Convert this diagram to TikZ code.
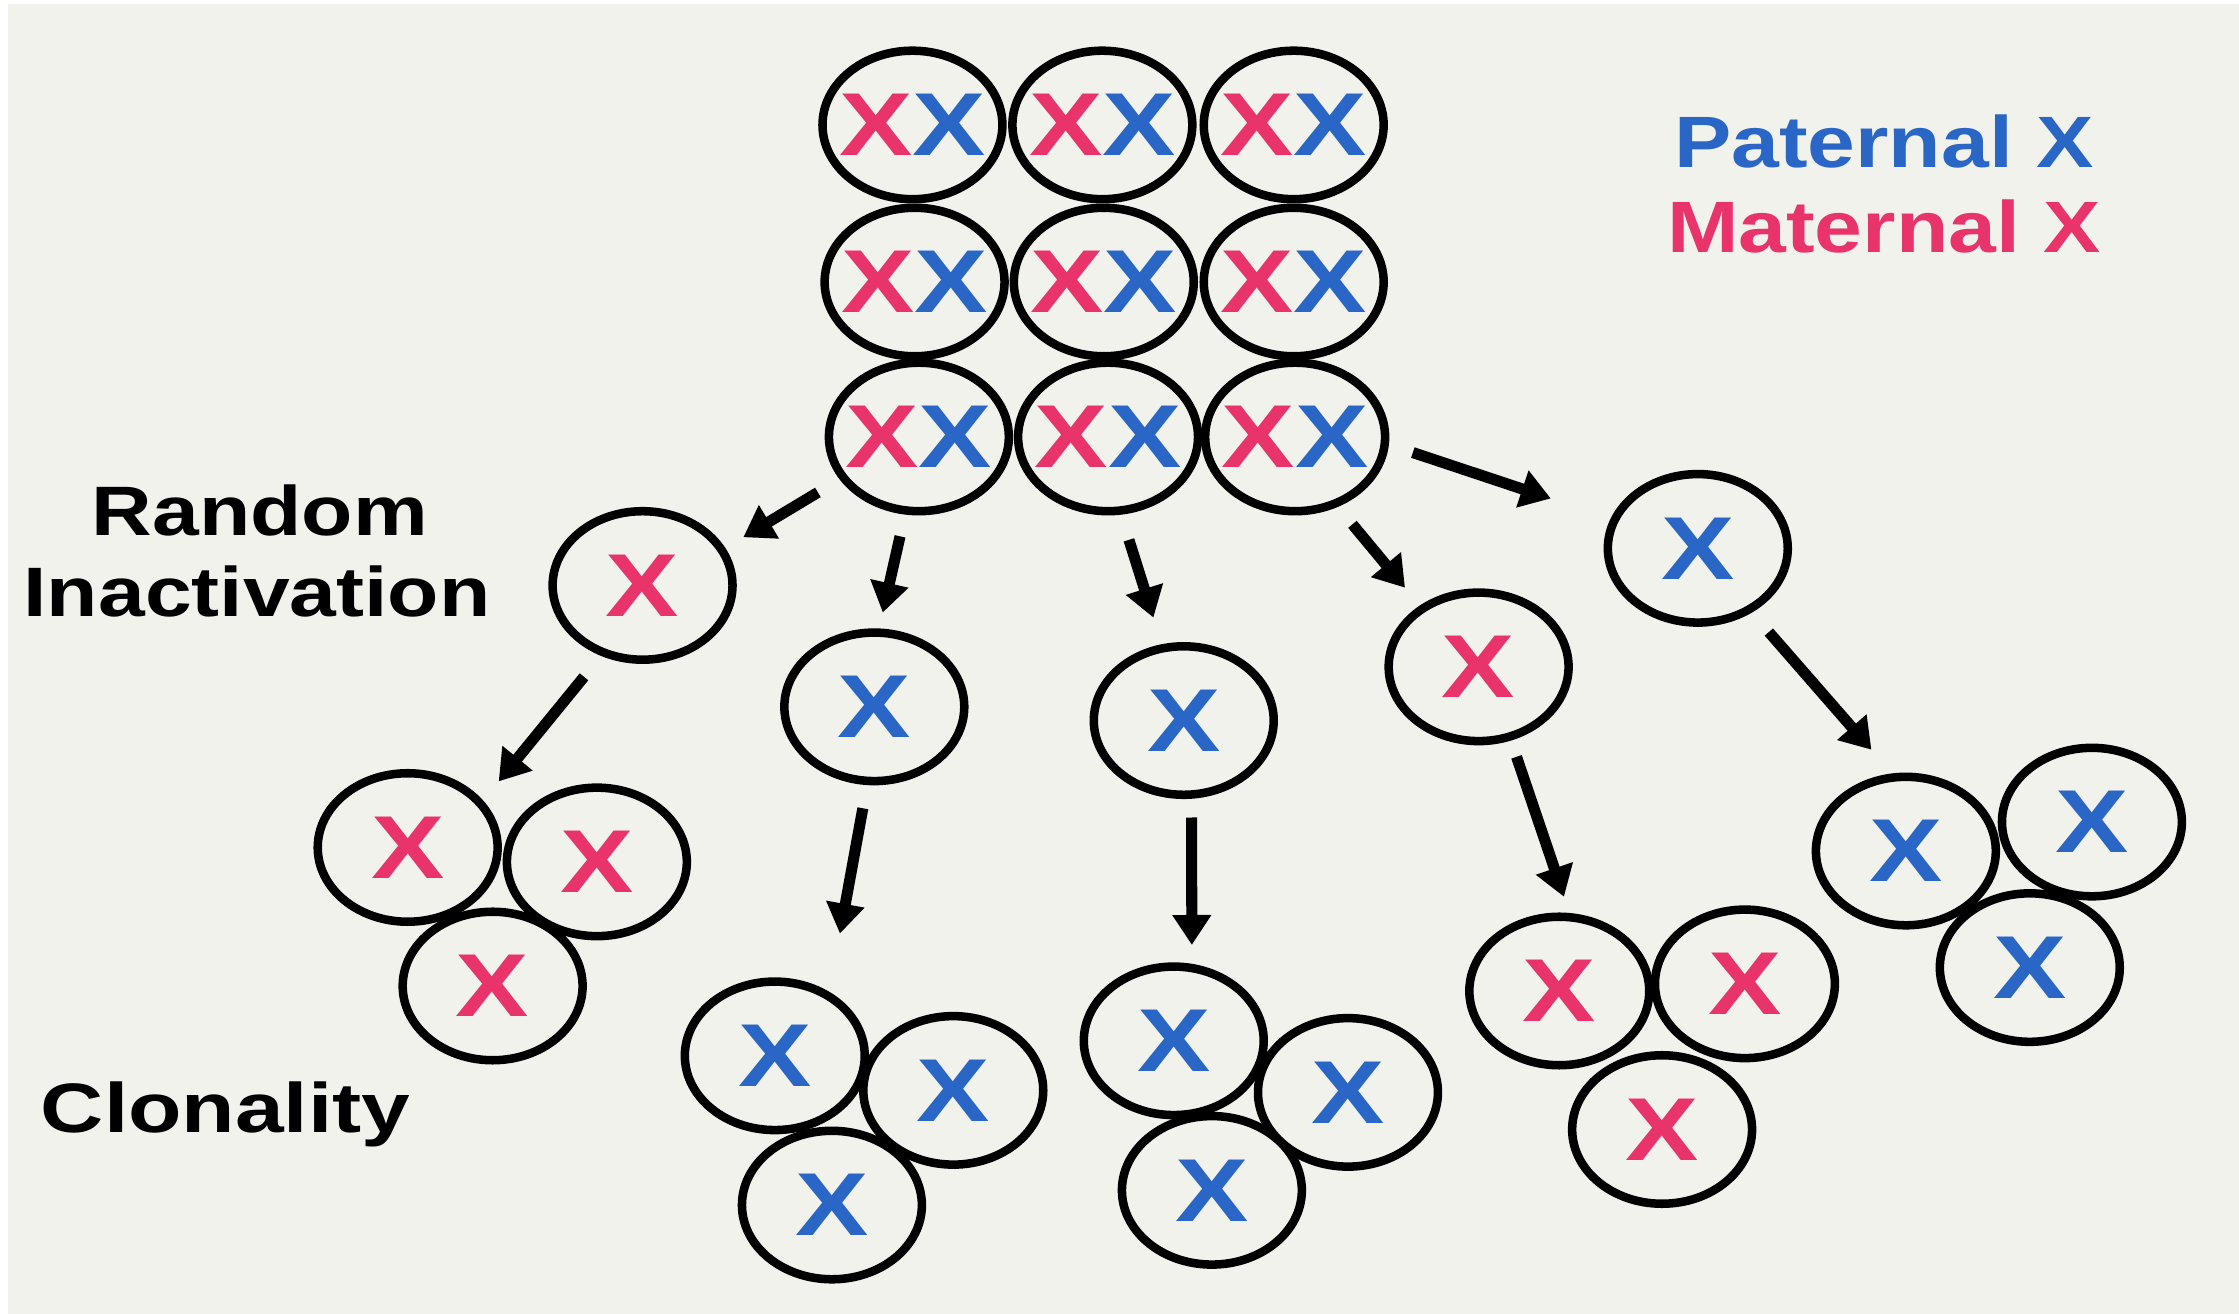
\documentclass[tikz,border=0pt]{standalone}
\usepackage{fontspec}
\setmainfont{Liberation Sans}
\usetikzlibrary{shapes.geometric, arrows.meta}
\definecolor{matred}{HTML}{E8336B}
\definecolor{patblue}{HTML}{2966C6}
\definecolor{paper}{HTML}{F2F2EC}
\newcommand{\wider}[2]{\scalebox{#1}[1]{#2}}
\newcommand{\matx}{\textcolor{matred}{X}}
\newcommand{\patx}{\textcolor{patblue}{X}}
\tikzset{
	cell/.style={ellipse, draw, line width=1.7pt, minimum width=12.6mm, minimum height=10.4mm, inner sep=0pt, outer sep=0pt,
		label={[font=\bfseries\fontsize{17.8}{20}\selectfont, inner sep=0pt]center:\wider{1.23}{#1}}},
	line/.style={draw, line width=2.2pt, -{Triangle[length=2.1mm, width=2.6mm]}},
	tag/.style={font=\bfseries\fontsize{13.95}{16}\selectfont, inner sep=0pt, anchor=base},
	key/.style={font=\bfseries\fontsize{14.5}{17}\selectfont, inner sep=0pt, anchor=base}
}

\begin{document}
\begin{tikzpicture}[x=0.1mm, y=-0.1mm]
	\useasboundingbox (0,0) rectangle (1568,920);
	\fill[white] (0,0) rectangle (1568,920);
	\fill[paper] (5.6,2.8) rectangle (1568,920);

	% mosaic of XX cells
	\foreach \n/\x/\y in {11/639/87.5, 12/772/87.5, 13/906/87.5,
		21/640.5/197.5, 22/773/197.5, 23/906/197.5,
		31/643.5/306, 32/776/306, 33/907/306}
		\node[cell={\matx\patx}] (c\n) at (\x,\y) {};

	% key
	\node[key, text=patblue] (patkey) at (1319.5,117) {\wider{1.18}{Paternal X}};
	\node[key, text=matred] (matkey) at (1319.5,176.5) {\wider{1.18}{Maternal X}};

	% labels
	\node[tag] (rnd) at (182,375) {\wider{1.2}{Random}};
	\node[tag] (inact) at (180,432) {\wider{1.2}{Inactivation}};
	\node[tag] (clon) at (158,793) {\wider{1.25}{Clonality}};

	% one X left active
	\node[cell=\matx] (s1) at (450,410) {};
	\node[cell=\patx] (s2) at (612.3,495) {};
	\node[cell=\patx] (s3) at (829,504.6) {};
	\node[cell=\matx] (s4) at (1035.5,467) {};
	\node[cell=\patx] (s5) at (1189,384) {};

	% clones
	\node[cell=\matx] (k1a) at (285.5,593.5) {};
	\node[cell=\matx] (k1b) at (418,603.6) {};
	\node[cell=\matx] (k1c) at (345,690.5) {};

	\node[cell=\patx] (k2a) at (542.6,739.4) {};
	\node[cell=\patx] (k2b) at (667.6,763.6) {};
	\node[cell=\patx] (k2c) at (582.6,843.9) {};

	\node[cell=\patx] (k3a) at (822,728.9) {};
	\node[cell=\patx] (k3b) at (944,765) {};
	\node[cell=\patx] (k3c) at (848.7,833.6) {};

	\node[cell=\matx] (k4a) at (1092,694) {};
	\node[cell=\matx] (k4b) at (1222,689) {};
	\node[cell=\matx] (k4c) at (1164,791) {};

	\node[cell=\patx] (k5a) at (1334.7,596) {};
	\node[cell=\patx] (k5b) at (1465,575.7) {};
	\node[cell=\patx] (k5c) at (1421.5,677.6) {};

	% inactivation arrows
	\path[line, shorten <=2.07mm, shorten >=1.76mm] (c31.208) -- (s1.24);
	\path[line, shorten <=1.86mm, shorten >=1.44mm] (c31.260) -- (s2.87);
	\path[line, shorten <=2.15mm, shorten >=2.25mm] (c32.279) -- (s3.106);
	\path[line, shorten <=1.9mm, shorten >=1.92mm] (c33.301) -- (s4.134);
	\path[line, shorten <=2.07mm, shorten >=4.72mm] (c33.356) -- (s5.161);

	% clonal expansion arrows
	\path[line, shorten <=2.2mm, shorten >=2.02mm] (s1.240) -- (k1a.31);
	\path[line, shorten <=1.95mm, shorten >=4.46mm] (s2.265) -- (k2a.48);
	\path[line, shorten <=1.61mm, shorten >=1.62mm] (s3.276) -- (k3a.76);
	\path[line, shorten <=1.5mm, shorten >=1.52mm] (s4.294) -- (k4a.81);
	\path[line, shorten <=2.11mm, shorten >=2.56mm] (s5.310) -- (k5a.98);
\end{tikzpicture}
\end{document}
